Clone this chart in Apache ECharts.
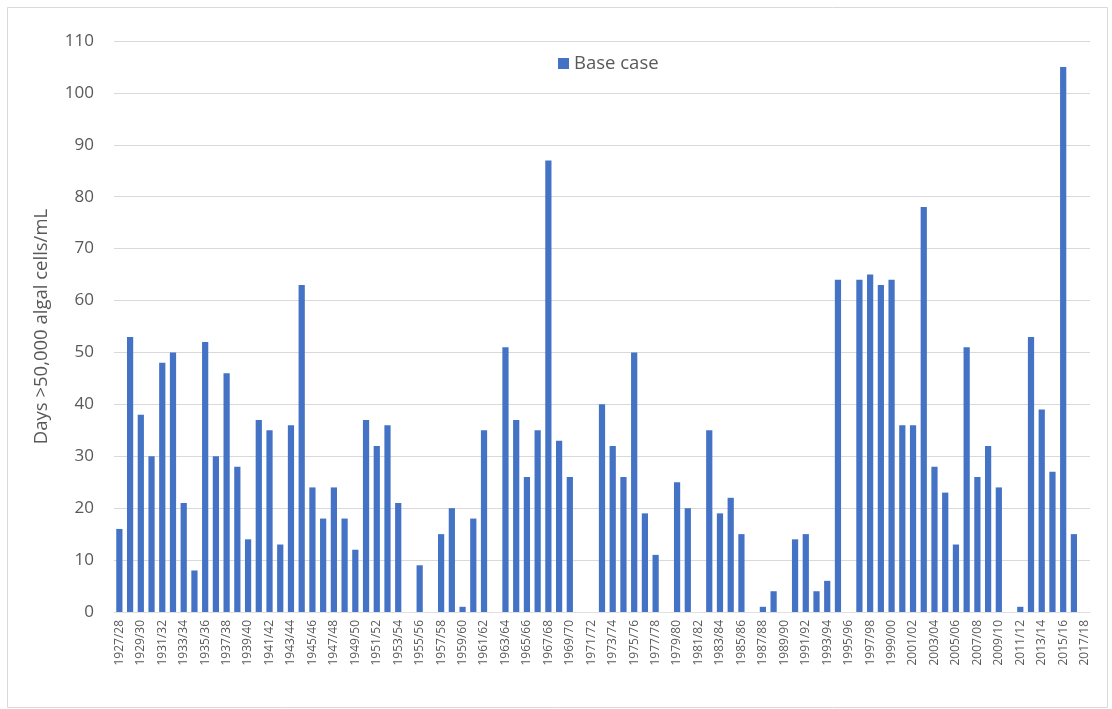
<!DOCTYPE html>
<html>
<head>
<meta charset="utf-8">
<script src="https://cdn.jsdelivr.net/npm/echarts@6/dist/echarts.min.js"></script>
<style>
html,body{margin:0;padding:0;background:#fff;}
#chart{width:1112px;height:709px;}
</style>
</head>
<body>
<div id="chart"></div>
<script>
const categories = ["1927/28","1928/29","1929/30","1930/31","1931/32","1932/33","1933/34","1934/35","1935/36","1936/37","1937/38","1938/39","1939/40","1940/41","1941/42","1942/43","1943/44","1944/45","1945/46","1946/47","1947/48","1948/49","1949/50","1950/51","1951/52","1952/53","1953/54","1954/55","1955/56","1956/57","1957/58","1958/59","1959/60","1960/61","1961/62","1962/63","1963/64","1964/65","1965/66","1966/67","1967/68","1968/69","1969/70","1970/71","1971/72","1972/73","1973/74","1974/75","1975/76","1976/77","1977/78","1978/79","1979/80","1980/81","1981/82","1982/83","1983/84","1984/85","1985/86","1986/87","1987/88","1988/89","1989/90","1990/91","1991/92","1992/93","1993/94","1994/95","1995/96","1996/97","1997/98","1998/99","1999/00","2000/01","2001/02","2002/03","2003/04","2004/05","2005/06","2006/07","2007/08","2008/09","2009/10","2010/11","2011/12","2012/13","2013/14","2014/15","2015/16","2016/17","2017/18"];
const baseCase = [16,53,38,30,48,50,21,8,52,30,46,28,14,37,35,13,36,63,24,18,24,18,12,37,32,36,21,0,9,0,15,20,1,18,35,0,51,37,26,35,87,33,26,0,0,40,32,26,50,19,11,0,25,20,0,35,19,22,15,0,1,4,0,14,15,4,6,64,0,64,65,63,64,36,36,78,28,23,13,51,26,32,24,0,1,53,39,27,105,15,0];
const yTicks = {min: 0, max: 110, interval: 10};
const seriesName = "Base case";
const yTitle = "Days >50,000 algal cells/mL";

const chart = echarts.init(document.getElementById('chart'));
chart.setOption({
  animation: false,
  backgroundColor: '#fff',
  graphic: [{
    type: 'rect', left: 5, top: 5, silent: true,
    shape: {x: 0, y: 0, width: 1100, height: 700},
    style: {fill: 'none', stroke: '#d9d9d9', lineWidth: 1}
  }],
  legend: {
    left: 553, top: 49, itemWidth: 11, itemHeight: 11, itemGap: 8,
    icon: 'rect',
    textStyle: {fontFamily: 'Open Sans', fontSize: 18.5, color: '#595959'},
    data: [seriesName]
  },
  grid: {left: 114, right: 22, top: 41, bottom: 97},
  xAxis: {
    type: 'category', data: categories,
    axisTick: {show: false},
    axisLine: {lineStyle: {color: '#e0e0e0'}},
    axisLabel: {interval: 1, rotate: 90, fontFamily: 'Open Sans', fontSize: 12, color: '#595959', margin: 8}
  },
  yAxis: {
    type: 'value', min: yTicks.min, max: yTicks.max, interval: yTicks.interval,
    name: yTitle, nameLocation: 'middle', nameGap: 63,
    nameTextStyle: {fontFamily: 'Open Sans', fontSize: 18.5, color: '#595959'},
    axisLine: {show: false}, axisTick: {show: false},
    axisLabel: {fontFamily: 'Open Sans', fontSize: 17, color: '#595959', margin: 20},
    splitLine: {lineStyle: {color: '#d9d9d9', width: 1}}
  },
  series: [{
    name: seriesName, type: 'bar', data: baseCase,
    barCategoryGap: '42%',
    itemStyle: {color: '#4472C4'}
  }]
});
</script>
</body>
</html>
